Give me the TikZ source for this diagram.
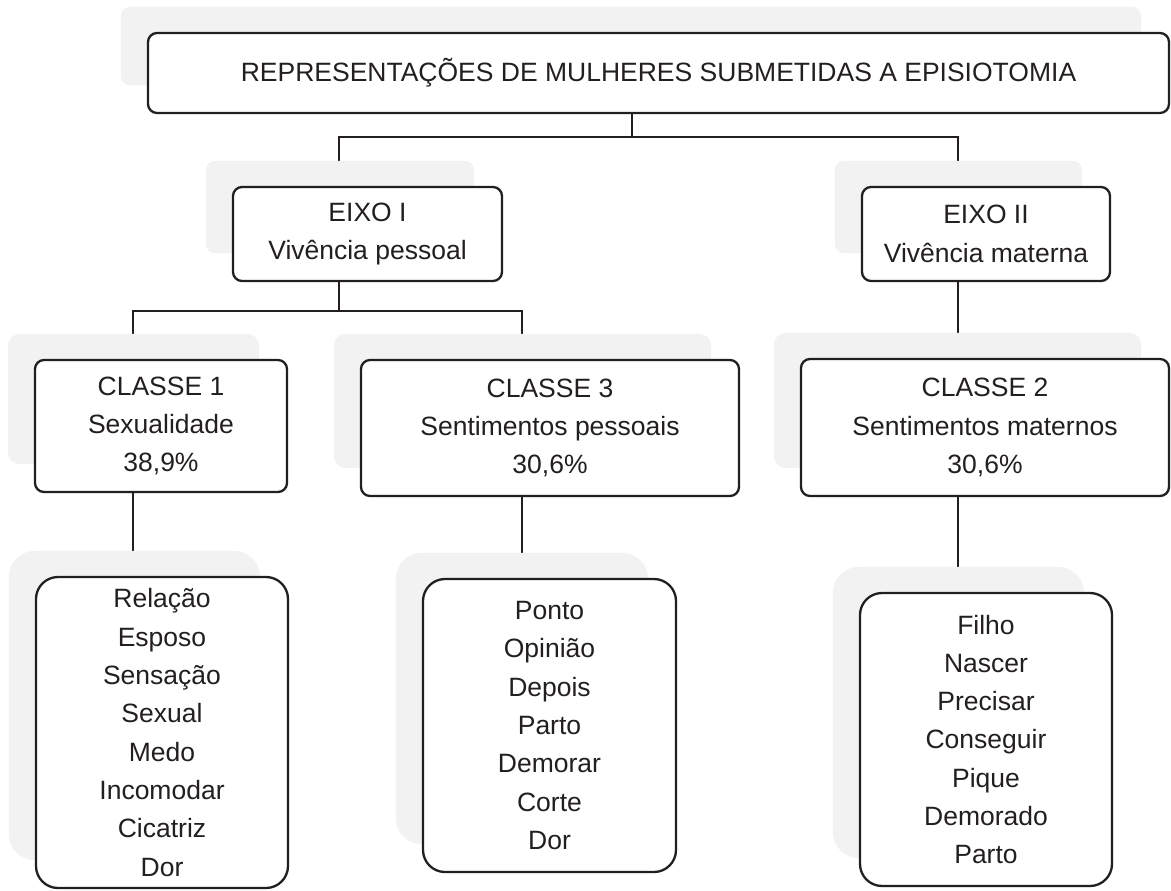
\documentclass[tikz,border=0pt]{standalone}
\usepackage{fontspec}
\setmainfont{Liberation Sans}
\usetikzlibrary{calc}
\definecolor{ink}{HTML}{231F20}
\definecolor{shadecol}{HTML}{F2F2F2}
\pgfdeclarelayer{connlayer}
\pgfdeclarelayer{shadelayer}
\pgfsetlayers{connlayer,shadelayer,main}
\tikzset{
  boxbase/.style={draw=ink, line width=2.3pt, fill=white, inner sep=0pt, align=center,
    text=ink, font=\fontsize{26.5}{38.3}\selectfont},
  sbox/.style={boxbase, rounded corners=9pt},
  wbox/.style={boxbase, rounded corners=22pt},
  conn/.style={draw=ink, line width=2.3pt},
}
\newcommand\myshadow[2]{%
  \begin{pgfonlayer}{shadelayer}
    \fill[shadecol, rounded corners=#2] ($(#1.north west)+(-26,-25)$) rectangle ($(#1.south east)+(-29,-29)$);
  \end{pgfonlayer}}
\begin{document}
\begin{tikzpicture}[x=1pt,y=-1pt]
\useasboundingbox (0,0) rectangle (1171,891);
% boxes
\node[sbox, minimum width=1021pt, minimum height=80pt] (top) at (658.5,73)
  {REPRESENTAÇÕES DE MULHERES SUBMETIDAS A EPISIOTOMIA};
\node[sbox, minimum width=269pt, minimum height=94pt] (e1) at (367.5,234)
  {EIXO I\\Vivência pessoal};
\node[sbox, minimum width=248pt, minimum height=94pt] (e2) at (986,234)
  {EIXO II\\Vivência materna};
\node[sbox, minimum width=252pt, minimum height=132pt] (c1) at (161,426)
  {CLASSE 1\\Sexualidade\\38,9\%};
\node[sbox, minimum width=378pt, minimum height=136pt] (c3) at (550,428)
  {CLASSE 3\\Sentimentos pessoais\\30,6\%};
\node[sbox, minimum width=368pt, minimum height=137pt] (c2) at (985,427.5)
  {CLASSE 2\\Sentimentos maternos\\30,6\%};
\node[wbox, minimum width=252pt, minimum height=311pt] (w1) at (162,732.5)
  {Relação\\Esposo\\Sensação\\Sexual\\Medo\\Incomodar\\Cicatriz\\Dor};
\node[wbox, minimum width=253pt, minimum height=293pt] (w2) at (549.5,725.5)
  {Ponto\\Opinião\\Depois\\Parto\\Demorar\\Corte\\Dor};
\node[wbox, minimum width=252pt, minimum height=293pt] (w3) at (986,739.5)
  {Filho\\Nascer\\Precisar\\Conseguir\\Pique\\Demorado\\Parto};
% shadows
\myshadow{top}{9pt}
\myshadow{e1}{9pt}
\myshadow{e2}{9pt}
\myshadow{c1}{12pt}
\myshadow{c3}{12pt}
\myshadow{c2}{12pt}
\myshadow{w1}{26pt}
\myshadow{w2}{26pt}
\myshadow{w3}{26pt}
% connectors
\begin{pgfonlayer}{connlayer}
\coordinate (j0) at (632,137);
\coordinate (j1) at (339,137);
\coordinate (j2) at (958,137);
\coordinate (k0) at (339,311);
\coordinate (k1) at (133,311);
\coordinate (k2) at (522,311);
\draw[conn] (top.south -| j0) -- (j0);
\draw[conn] (j1 |- e1.north) -- (j1) -- (j2) -- (j2 |- e2.north);
\draw[conn] (e1.south -| k0) -- (k0);
\draw[conn] (k1 |- c1.north) -- (k1) -- (k2) -- (k2 |- c3.north);
\draw[conn] (e2.south -| j2) -- (c2.north -| j2);
\draw[conn] (c1.south -| k1) -- (w1.north -| k1);
\draw[conn] (c3.south -| k2) -- (w2.north -| k2);
\draw[conn] (c2.south -| j2) -- (w3.north -| j2);
\end{pgfonlayer}
\end{tikzpicture}
\end{document}
